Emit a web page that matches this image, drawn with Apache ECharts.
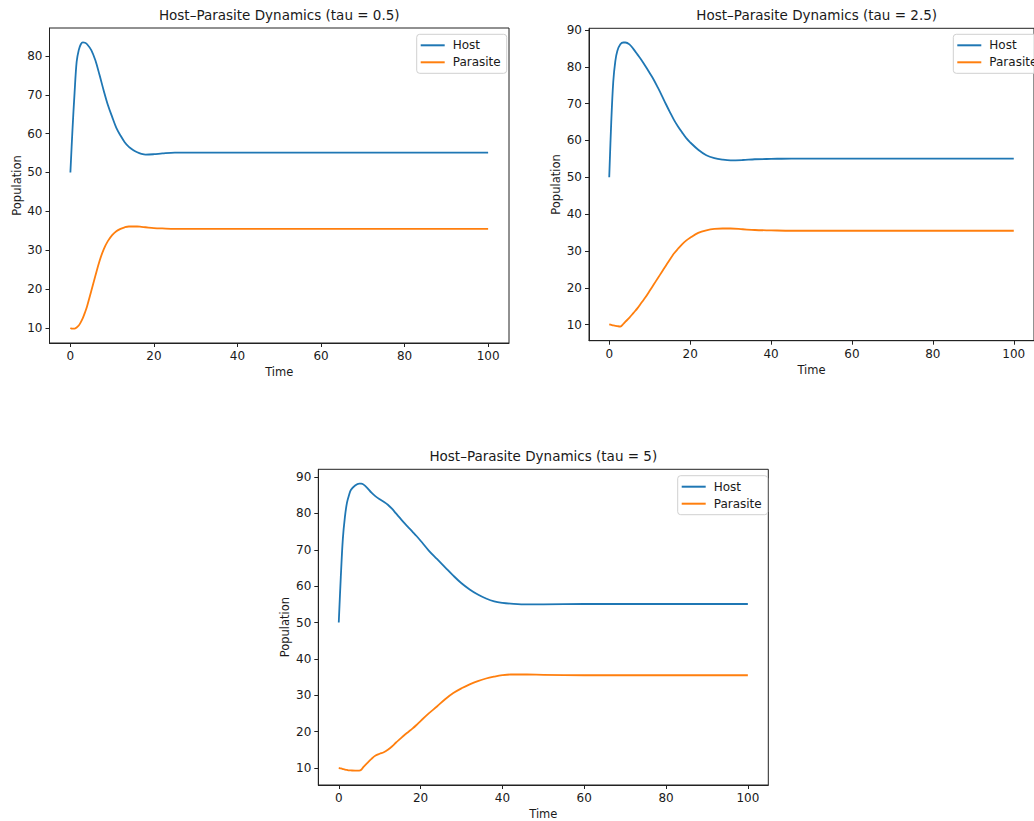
<!DOCTYPE html>
<html>
<head>
<meta charset="utf-8">
<script src="https://cdn.jsdelivr.net/npm/echarts@6/dist/echarts.min.js"></script>
<style>
  html, body { margin: 0; padding: 0; background: #fff; }
  #chart { width: 1034px; height: 821px; }
</style>
</head>
<body>
<div id="chart"></div>
<script>
// tau = 0.5
const time05 = [0, 0.5, 1, 1.5, 2, 2.5, 3, 3.5, 4, 5, 6, 7, 8, 9, 10, 11, 12, 13, 14, 15, 16, 17, 18, 20, 22, 25, 30, 40, 50, 60, 70, 80, 90, 100]
const host05 = [50, 61, 70.5, 78.5, 81.5, 83, 83.5, 83.4, 83, 81.5, 78.8, 75, 71, 67.3, 64.3, 61.5, 59.5, 57.8, 56.6, 55.8, 55.2, 54.8, 54.6, 54.7, 54.9, 55.1, 55.1, 55.1, 55.1, 55.1, 55.1, 55.1, 55.1, 55.1]
const parasite05 = [10, 9.8, 9.8, 10.1, 10.6, 11.5, 12.6, 14, 15.6, 19.5, 23.5, 27.3, 30.3, 32.4, 33.9, 34.9, 35.5, 35.9, 36.1, 36.1, 36.1, 36.0, 35.9, 35.7, 35.6, 35.5, 35.5, 35.5, 35.5, 35.5, 35.5, 35.5, 35.5, 35.5]

// tau = 2.5
const time25 = [0, 0.5, 1, 1.5, 2, 2.75, 3.5, 4, 5, 6, 7, 8, 9, 10, 11, 12, 13, 14, 15, 16, 17, 18, 19, 20, 22, 24, 26, 28, 30, 33, 36, 40, 45, 50, 60, 70, 80, 90, 100]
const host25 = [50, 65, 76, 81.5, 84.3, 86.1, 86.6, 86.6, 86.1, 84.8, 83.3, 81.8, 80.1, 78.3, 76.5, 74.4, 72.2, 69.9, 67.7, 65.6, 63.8, 62.2, 60.7, 59.5, 57.5, 56.0, 55.2, 54.8, 54.6, 54.7, 54.9, 55.0, 55.1, 55.1, 55.1, 55.1, 55.1, 55.1, 55.1]
const parasite25 = [10.1, 9.95, 9.8, 9.7, 9.6, 9.5, 10.2, 10.8, 11.9, 13.2, 14.5, 16.0, 17.5, 19.2, 20.9, 22.6, 24.3, 26.0, 27.7, 29.3, 30.6, 31.8, 32.8, 33.6, 34.9, 35.6, 36.0, 36.1, 36.1, 35.9, 35.7, 35.6, 35.5, 35.5, 35.5, 35.5, 35.5, 35.5, 35.5]

// tau = 5
const time5 = [0, 0.5, 1, 1.5, 2, 2.5, 3, 4, 5, 5.5, 6, 7, 8, 9, 10, 11, 12, 13, 14, 15, 16, 17, 18, 19, 20, 22, 24, 26, 28, 30, 32, 34, 36, 38, 40, 42, 46, 50, 60, 70, 80, 90, 100]
const host5 = [50, 62.5, 73, 79, 82.9, 85, 86.5, 87.7, 88.2, 88.2, 88.0, 87.0, 85.7, 84.7, 83.9, 83.2, 82.4, 81.3, 80.0, 78.7, 77.4, 76.2, 75.0, 73.8, 72.5, 69.8, 67.5, 65.2, 62.9, 60.8, 59.1, 57.7, 56.6, 55.8, 55.4, 55.2, 55.0, 55.0, 55.1, 55.1, 55.1, 55.1, 55.1]
const parasite5 = [10, 9.85, 9.7, 9.55, 9.45, 9.35, 9.3, 9.25, 9.25, 9.5, 10.2, 11.4, 12.5, 13.4, 13.9, 14.3, 15.0, 15.9, 17.0, 18.0, 19.0, 19.9, 20.8, 21.8, 22.9, 25.0, 26.9, 28.9, 30.6, 31.9, 33.0, 33.9, 34.6, 35.1, 35.5, 35.7, 35.7, 35.6, 35.5, 35.5, 35.5, 35.5, 35.5]

const titles = ['Host–Parasite Dynamics (tau = 0.5)', 'Host–Parasite Dynamics (tau = 2.5)', 'Host–Parasite Dynamics (tau = 5)']
const xTicks = [0, 20, 40, 60, 80, 100]
const yTicks05 = [10, 20, 30, 40, 50, 60, 70, 80]
const yTicks = [10, 20, 30, 40, 50, 60, 70, 80, 90]

const FONT = 'DejaVu Sans'
const TEXT = '#1a1a1a'

// panel boxes in px (plot frame)
const panels = [
  { left: 49.5, top: 28, width: 459.5, height: 315, time: time05, host: host05, parasite: parasite05, yTicks: yTicks05, legendLeft: 416.7, legendTop: 34.3 },
  { left: 589, top: 28.3, width: 455.4, height: 312.4, time: time25, host: host25, parasite: parasite25, yTicks: yTicks, legendLeft: 953.3, legendTop: 34.3 },
  { left: 318.3, top: 469.3, width: 450, height: 318.4, time: time5, host: host5, parasite: parasite5, yTicks: yTicks, legendLeft: 677.7, legendTop: 475.7 },
]

const option = {
  animation: false,
  backgroundColor: '#fff',
  textStyle: { fontFamily: FONT },
  title: [], grid: [], xAxis: [], yAxis: [], legend: [], series: [],
}

panels.forEach((p, i) => {
  const all = p.host.concat(p.parasite)
  const lo = Math.min(...all), hi = Math.max(...all)
  const pad = (hi - lo) * 0.05

  option.title.push({
    text: titles[i],
    left: p.left + p.width / 2,
    top: p.top - 20,
    textAlign: 'center',
    padding: 0,
    textStyle: { fontFamily: FONT, fontSize: 13.5, fontWeight: 'normal', color: TEXT },
  })
  option.grid.push({
    left: p.left, top: p.top, width: p.width, height: p.height,
    show: true, borderColor: '#222', borderWidth: 1, backgroundColor: 'transparent',
  })
  option.xAxis.push({
    type: 'value', gridIndex: i, min: -5, max: 105,
    name: 'Time', nameLocation: 'middle', nameGap: 23,
    nameTextStyle: { fontFamily: FONT, fontSize: 11.5, color: TEXT },
    axisLine: { show: true, onZero: false, lineStyle: { color: '#222', width: 1 } },
    axisTick: { show: true, length: 4, lineStyle: { color: '#222' }, customValues: xTicks },
    axisLabel: { fontFamily: FONT, fontSize: 12, color: TEXT, margin: 7, customValues: xTicks },
    splitLine: { show: false },
  })
  option.yAxis.push({
    type: 'value', gridIndex: i, min: lo - pad, max: hi + pad,
    name: 'Population', nameLocation: 'middle', nameGap: 27,
    nameTextStyle: { fontFamily: FONT, fontSize: 11.5, color: TEXT },
    axisLine: { show: true, onZero: false, lineStyle: { color: '#222', width: 1 } },
    axisTick: { show: true, length: 4, lineStyle: { color: '#222' }, customValues: p.yTicks },
    axisLabel: { fontFamily: FONT, fontSize: 12, color: TEXT, margin: 7, customValues: p.yTicks },
    splitLine: { show: false },
  })
  option.legend.push({
    data: ['Host', 'Parasite'],
    orient: 'vertical',
    left: p.legendLeft, top: p.legendTop,
    icon: 'rect', itemWidth: 24, itemHeight: 2, itemGap: 3,
    padding: [4, 6, 4, 4],
    backgroundColor: 'rgba(255,255,255,0.8)',
    borderColor: '#d0d0d0', borderWidth: 1, borderRadius: 3,
    textStyle: { fontFamily: FONT, fontSize: 12, color: TEXT, lineHeight: 14, padding: [0, 0, 0, 3] },
    selectedMode: false,
  })
  const mk = (name, vals, color) => ({
    name, type: 'line', xAxisIndex: i, yAxisIndex: i,
    data: p.time.map((t, k) => [t, vals[k]]),
    showSymbol: false, smooth: 0.35,
    lineStyle: { color, width: 1.8 }, itemStyle: { color },
  })
  option.series.push(mk('Host', p.host, '#1f77b4'))
  option.series.push(mk('Parasite', p.parasite, '#ff7f0e'))
})

const chart = echarts.init(document.getElementById('chart'), null, { renderer: 'svg' })
chart.setOption(option)
</script>
</body>
</html>
